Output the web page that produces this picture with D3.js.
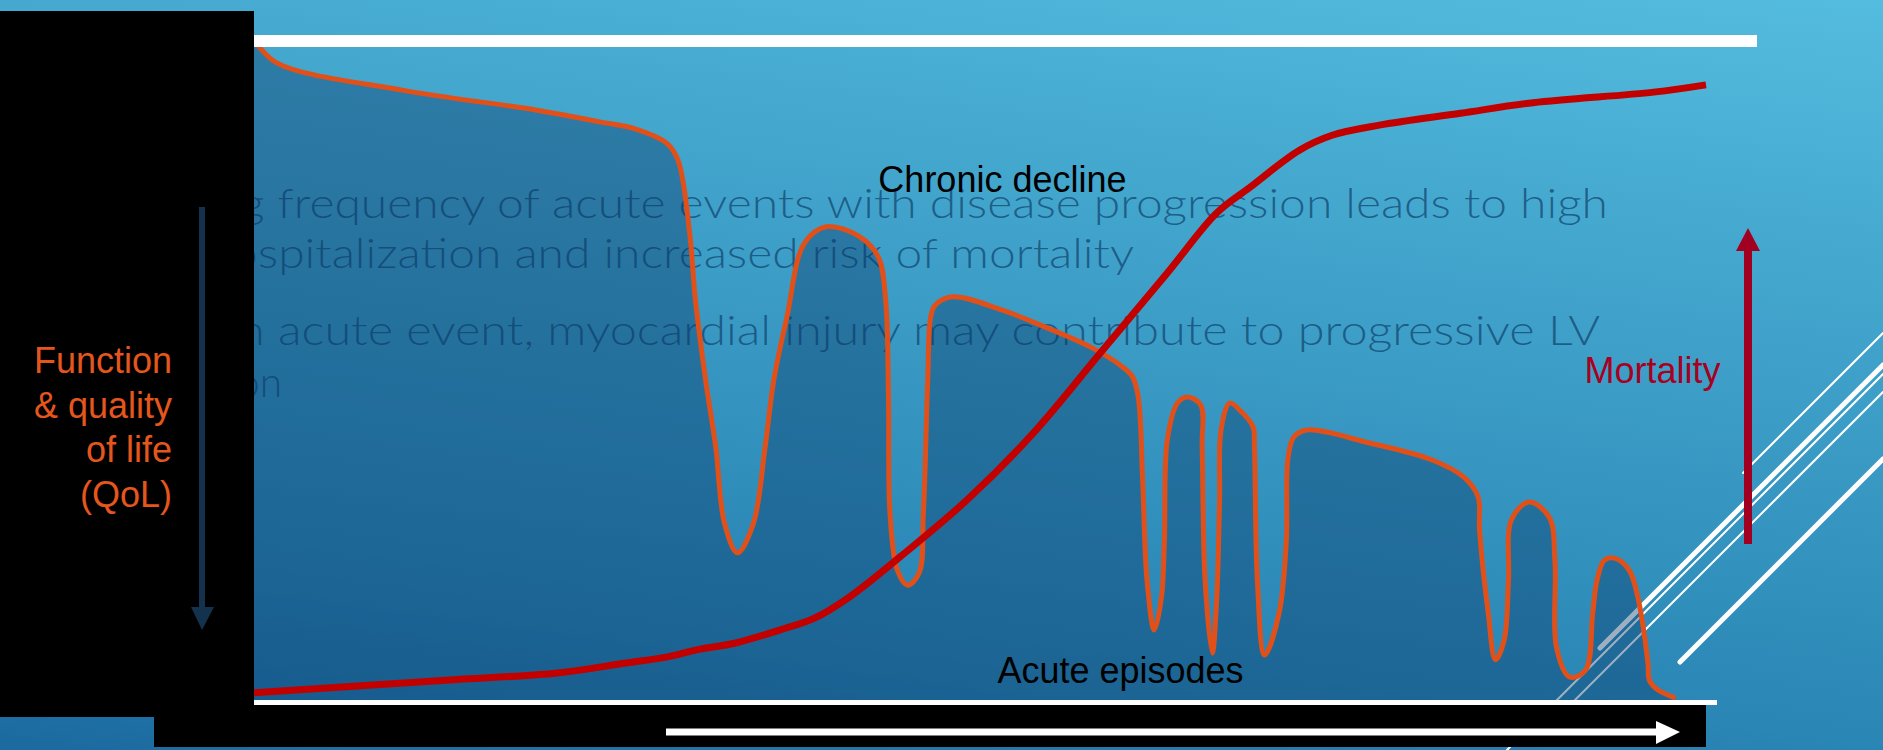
<!DOCTYPE html>
<html>
<head>
<meta charset="utf-8">
<script src="https://cdn.jsdelivr.net/npm/d3@7"></script>
<style>
  html, body { margin: 0; padding: 0; overflow: hidden; background: #1c6ba0; }
  svg { display: block; }
</style>
</head>
<body>
<div id="vis-container"></div>
<script>
// QoL curve: disease time (0-100) vs function & quality of life (0-100)
const qolTime = [0, 1.6, 10.2, 19.4, 23.8, 26.3, 28.4, 29.2, 30.0, 30.4, 31.1, 31.8, 32.4, 33.3, 34.4, 35.2,
  35.8, 36.7, 37.9, 39.4, 41.7, 43.0, 43.5, 43.7, 43.8, 44.3, 45.0, 45.8, 46.1, 46.4, 46.6, 46.9, 48.1,
  51.5, 54.5, 57.6, 59.8, 60.5, 60.9, 61.2, 61.5, 62.0, 62.5, 62.7, 62.9, 63.6, 64.3, 65.2, 65.3, 65.5,
  66.0, 66.3, 66.5, 66.6, 67.2, 67.9, 68.8, 68.9, 69.1, 69.6, 70.6, 71.1, 71.2, 71.6, 72.5, 76.9, 81.1,
  83.3, 84.3, 84.4, 85.0, 85.5, 86.1, 86.4, 86.6, 87.8, 89.2, 89.6, 89.7, 90.6, 91.7, 92.2, 92.5, 93.0,
  93.7, 94.7, 95.3, 96.0, 96.1, 96.7, 97.9];
const qolValue = [100, 96.5, 92.4, 89.4, 87.6, 86.5, 84.4, 81.8, 70.8, 60.6, 48.5, 38.3, 26.8, 22.3, 26.8, 38.3,
  48.5, 58.0, 69.2, 71.7, 70.2, 67.1, 60.6, 45.5, 28.3, 19.7, 17.4, 19.2, 28.3, 48.5, 58.0, 59.8, 61.1,
  59.1, 56.5, 53.5, 50.5, 49.0, 45.9, 33.3, 18.2, 10.6, 15.6, 24.2, 39.4, 45.0, 45.9, 44.7, 38.3, 18.2,
  7.1, 15.2, 30.3, 40.9, 45.0, 43.9, 41.4, 38.3, 18.2, 6.8, 13.2, 24.2, 36.4, 39.8, 40.9, 38.9, 36.4,
  33.8, 30.8, 25.8, 13.2, 6.1, 9.1, 18.2, 27.3, 30.0, 27.7, 20.8, 8.0, 3.5, 4.5, 13.2, 18.2, 21.2,
  21.5, 19.7, 15.6, 5.6, 3.0, 1.5, 0.3];

// mortality curve
const mortTime = [0, 13.2, 20.9, 25.6, 28.4, 30.7, 33.1, 36.2, 38.6, 41.0, 44.5, 49.1, 53.7, 58.3, 62.9,
  66.3, 68.6, 72.0, 74.3, 77.5, 83.1, 88.1, 96.4, 100];
const mortValue = [1.1, 3.0, 4.1, 5.6, 6.5, 7.7, 8.6, 10.6, 12.4, 15.6, 21.7, 30.3, 40.5, 52.6, 64.7,
  73.8, 77.7, 83.3, 85.6, 87.1, 88.9, 90.5, 92.1, 93.2];

// faint slide text behind the chart (partly covered by the black panel)
const bulletText = [
  "g frequency of acute events with disease progression leads to high",
  "ospitalization and increased risk of mortality",
  "n acute event, myocardial injury may contribute to progressive LV",
  "on"
];

const qolLabel = ["Function", "& quality", "of life", "(QoL)"];
const chronicLabel = "Chronic decline";
const acuteLabel = "Acute episodes";
const mortalityLabel = "Mortality";

// set the dimensions of the page
var width = 1883,
  height = 750;

var svg = d3
  .select("#vis-container")
  .append("svg")
  .attr("width", width)
  .attr("height", height);

// background gradient (light top right -> darker bottom left)
var defs = svg.append("defs");
var grad = defs
  .append("linearGradient")
  .attr("id", "bg")
  .attr("gradientUnits", "userSpaceOnUse")
  .attr("x1", 1883)
  .attr("y1", 0)
  .attr("x2", 1753)
  .attr("y2", 975);
[
  [0, "#54bcdf"],
  [0.24, "#46aad0"],
  [0.75, "#2a86b5"],
  [1, "#1c6ba0"],
].forEach((s) => {
  grad.append("stop").attr("offset", s[0]).attr("stop-color", s[1]);
});

svg.append("rect").attr("width", width).attr("height", height).attr("fill", "url(#bg)");

// scales
var x = d3.scaleLinear().domain([0, 100]).range([254, 1706]);
var y = d3.scaleLinear().domain([0, 100]).range([700, 40]);

// faint bullet text
var bulletPos = [
  { x0: 240, x1: 1608, base: 218 },
  { x0: 231, x1: 1134, base: 268 },
  { x0: 238, x1: 1600, base: 345 },
  { x0: 237, x1: 282, base: 397 },
];
svg
  .append("g")
  .selectAll("text")
  .data(bulletText)
  .enter()
  .append("text")
  .attr("x", (d, i) => bulletPos[i].x0)
  .attr("y", (d, i) => bulletPos[i].base)
  .attr("textLength", (d, i) => bulletPos[i].x1 - bulletPos[i].x0)
  .attr("lengthAdjust", "spacingAndGlyphs")
  .style("font-family", "Lato, 'Open Sans', sans-serif")
  .style("font-weight", 300)
  .style("font-size", "42px")
  .attr("fill", "#104470")
  .attr("fill-opacity", 0.72)
  .text((d) => d);

// decorative diagonal lines of the slide template
var diag = [
  { x1: 1743, y1: 473, x2: 1883, y2: 333, w: 2 },
  { x1: 1600, y1: 648, x2: 1883, y2: 365, w: 5 },
  { x1: 1507, y1: 750, x2: 1883, y2: 374, w: 2 },
  { x1: 1575, y1: 700, x2: 1883, y2: 392, w: 2 },
  { x1: 1680, y1: 662, x2: 1883, y2: 459, w: 5 },
];
svg
  .append("g")
  .selectAll("line")
  .data(diag)
  .enter()
  .append("line")
  .attr("x1", (d) => d.x1)
  .attr("y1", (d) => d.y1)
  .attr("x2", (d) => d.x2)
  .attr("y2", (d) => d.y2)
  .attr("stroke", "#ffffff")
  .attr("stroke-width", (d) => d.w)
  .attr("stroke-linecap", "round");

// QoL area + line
var qol = qolTime.map((t, i) => ({ t: t, v: qolValue[i] }));
var curve = d3.curveCatmullRom.alpha(0.5);

svg
  .append("path")
  .datum(qol)
  .attr(
    "d",
    d3
      .area()
      .x((d) => x(d.t))
      .y0(y(0))
      .y1((d) => y(d.v))
      .curve(curve)
  )
  .attr("fill", "#0a3a6a")
  .attr("fill-opacity", 0.4);

svg
  .append("path")
  .datum(qol)
  .attr(
    "d",
    d3
      .line()
      .x((d) => x(d.t))
      .y((d) => y(d.v))
      .curve(curve)
  )
  .attr("fill", "none")
  .attr("stroke", "#e2501a")
  .attr("stroke-width", 5)
  .attr("stroke-linejoin", "round");

// mortality line
var mort = mortTime.map((t, i) => ({ t: t, v: mortValue[i] }));
svg
  .append("path")
  .datum(mort)
  .attr(
    "d",
    d3
      .line()
      .x((d) => x(d.t))
      .y((d) => y(d.v))
      .curve(d3.curveCatmullRom.alpha(0.5))
  )
  .attr("fill", "none")
  .attr("stroke", "#c20000")
  .attr("stroke-width", 7);

// labels on the chart
var labelFont = "'Liberation Sans', Arial, sans-serif";
svg
  .append("text")
  .attr("x", x(43.0))
  .attr("y", y(77.0))
  .style("font-family", labelFont)
  .style("font-size", "36px")
  .attr("fill", "#000")
  .text(chronicLabel);

svg
  .append("text")
  .attr("x", x(51.2))
  .attr("y", y(2.6))
  .style("font-family", labelFont)
  .style("font-size", "36px")
  .attr("fill", "#000")
  .text(acuteLabel);

svg
  .append("text")
  .attr("x", x(101.0))
  .attr("y", y(48.0))
  .attr("text-anchor", "end")
  .style("font-family", labelFont)
  .style("font-size", "36px")
  .attr("fill", "#a8001f")
  .text(mortalityLabel);

// mortality arrow
svg
  .append("line")
  .attr("x1", 1748)
  .attr("x2", 1748)
  .attr("y1", 544)
  .attr("y2", 248)
  .attr("stroke", "#a20021")
  .attr("stroke-width", 8);
svg
  .append("path")
  .attr("d", "M1736,251 L1760,251 L1748,228 Z")
  .attr("fill", "#a20021");

// white frame lines
svg.append("rect").attr("x", 254).attr("y", 35).attr("width", 1757 - 254).attr("height", 12).attr("fill", "#fff");
svg.append("rect").attr("x", 254).attr("y", 700).attr("width", 1717 - 254).attr("height", 5).attr("fill", "#fff");

// black panels
svg.append("rect").attr("x", 0).attr("y", 11).attr("width", 254).attr("height", 717 - 11).attr("fill", "#000");
svg.append("rect").attr("x", 154).attr("y", 705).attr("width", 1706 - 154).attr("height", 42).attr("fill", "#000");

// time arrow
svg.append("rect").attr("x", 666).attr("y", 728.5).attr("width", 1658 - 666).attr("height", 7).attr("fill", "#fff");
svg.append("path").attr("d", "M1656,721 L1680,732 L1656,744 Z").attr("fill", "#fff");

// QoL arrow
svg
  .append("line")
  .attr("x1", 202)
  .attr("x2", 202)
  .attr("y1", 207)
  .attr("y2", 610)
  .attr("stroke", "#14314d")
  .attr("stroke-width", 6);
svg
  .append("path")
  .attr("d", "M191,607 L214,607 L202,630 Z")
  .attr("fill", "#14314d");

// QoL axis label
svg
  .append("g")
  .selectAll("text")
  .data(qolLabel)
  .enter()
  .append("text")
  .attr("x", 172)
  .attr("y", (d, i) => 373 + i * 44.7)
  .attr("text-anchor", "end")
  .style("font-family", labelFont)
  .style("font-size", "36px")
  .attr("fill", "#e5561d")
  .text((d) => d);
</script>
</body>
</html>
